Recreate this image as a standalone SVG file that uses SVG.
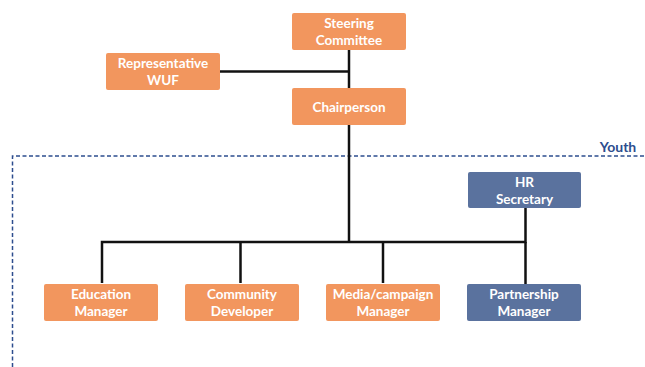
<svg xmlns="http://www.w3.org/2000/svg" width="645" height="367" viewBox="0 0 645 367">
<style>
.o{fill:#F2965E}
.b{fill:#5A729E}
.t{font-family:Lato,"Open Sans",sans-serif;font-weight:bold;font-size:13.5px;fill:#fff;text-anchor:middle}
.c{stroke:#111;stroke-width:2.5;fill:none}
.d{stroke:#2D4D8E;stroke-width:1.5;stroke-dasharray:4 2.5;fill:none}
</style>
<rect width="645" height="367" fill="#fff"/>
<g id="youth">
<path class="d" d="M12.5 367 V156 H645"/>
<text x="618" y="151.5" style="font-family:Lato,sans-serif;font-weight:bold;font-size:14px;fill:#2D4D8E;text-anchor:middle">Youth</text>
</g>
<g id="connectors">
<path class="c" d="M349 50 V242"/>
<path class="c" d="M220 71.5 H349"/>
<path class="c" d="M102 283 V242 H525.5 V208"/>
<path class="c" d="M240.5 242 V283"/>
<path class="c" d="M383 242 V283"/>
<path class="c" d="M525.5 242 V284"/>
</g>
<g id="steering"><rect class="o" x="292" y="13" width="114" height="37" rx="2"/><text class="t" x="349" y="28">Steering</text><text class="t" x="349" y="45">Committee</text></g>
<g id="representative"><rect class="o" x="106" y="53" width="114" height="37" rx="2"/><text class="t" x="163" y="68">Representative</text><text class="t" x="163" y="85">WUF</text></g>
<g id="chairperson"><rect class="o" x="292" y="88" width="114" height="37" rx="2"/><text class="t" x="349" y="111.5">Chairperson</text></g>
<g id="hr"><rect class="b" x="468" y="172" width="113" height="36" rx="2"/><text class="t" x="524.5" y="186.5">HR</text><text class="t" x="524.5" y="203.5">Secretary</text></g>
<g id="education"><rect class="o" x="44" y="284" width="114" height="37" rx="2"/><text class="t" x="101" y="299">Education</text><text class="t" x="101" y="316">Manager</text></g>
<g id="community"><rect class="o" x="185" y="284" width="114" height="37" rx="2"/><text class="t" x="242" y="299">Community</text><text class="t" x="242" y="316">Developer</text></g>
<g id="media"><rect class="o" x="326" y="284" width="114" height="37" rx="2"/><text class="t" x="383" y="299">Media/campaign</text><text class="t" x="383" y="316">Manager</text></g>
<g id="partnership"><rect class="b" x="467" y="284" width="114" height="37" rx="2"/><text class="t" x="524" y="299">Partnership</text><text class="t" x="524" y="316">Manager</text></g>
</svg>
